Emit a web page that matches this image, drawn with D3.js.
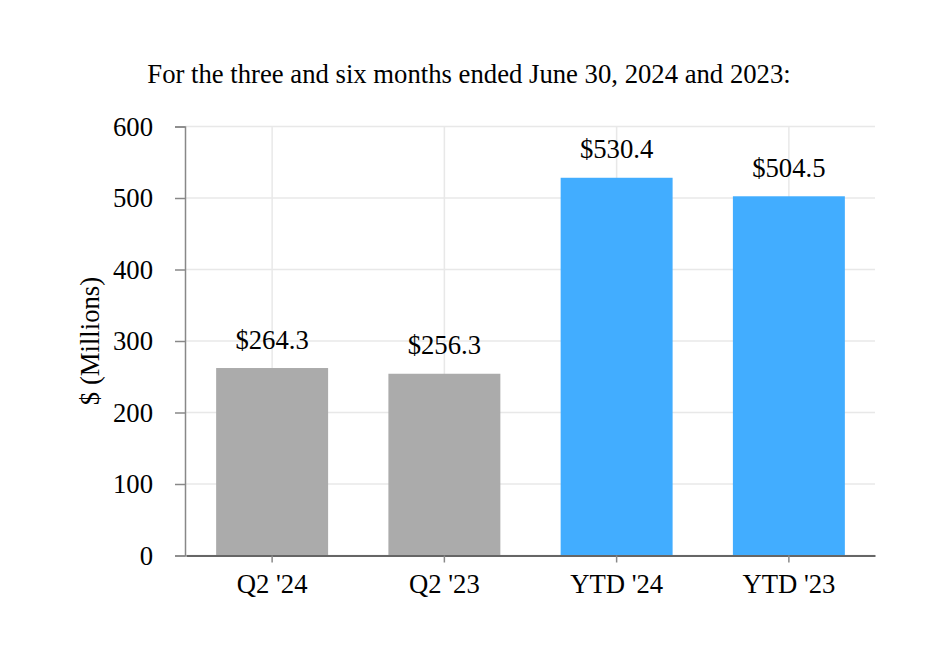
<!DOCTYPE html>
<html><head><meta charset="utf-8">
<script src="https://cdn.jsdelivr.net/npm/d3@7"></script>
<style>body{margin:0;background:#fff;} svg{display:block;}</style>
</head><body>
<svg id="chart" width="938" height="666"></svg>
<script>
const categories = ["Q2 '24", "Q2 '23", "YTD '24", "YTD '23"];
const values = [264.3, 256.3, 530.4, 504.5];
const labels = ["$264.3", "$256.3", "$530.4", "$504.5"];
const barColors = ["#ababab", "#ababab", "#42adff", "#42adff"];
const yTicks = [0, 100, 200, 300, 400, 500, 600];
const title = "For the three and six months ended June 30, 2024 and 2023:";
const yTitle = "$ (Millions)";

const svg = d3.select("#chart");
const font = "'Liberation Serif','Times New Roman',serif";
const fs = 26.7;
const m = {left: 185, right: 875, top: 126.5, bottom: 555.5};

const x = d3.scaleBand().domain(categories).range([m.left + 1, m.right]).paddingInner(0.35).paddingOuter(0.175);
const y = d3.scaleLinear().domain([0, 600]).range([m.bottom, m.top]);

// gridlines
svg.append("g").selectAll("line").data(yTicks).join("line")
  .attr("x1", m.left).attr("x2", m.right)
  .attr("y1", d => y(d)).attr("y2", d => y(d))
  .attr("stroke", "#e8e8e8").attr("stroke-width", 1.5);
svg.append("g").selectAll("line").data(categories).join("line")
  .attr("x1", d => x(d) + x.bandwidth()/2).attr("x2", d => x(d) + x.bandwidth()/2)
  .attr("y1", m.top).attr("y2", m.bottom)
  .attr("stroke", "#e8e8e8").attr("stroke-width", 1.5);

// bars
svg.append("g").selectAll("rect").data(values).join("rect")
  .attr("x", (d, i) => x(categories[i]))
  .attr("width", x.bandwidth())
  .attr("y", d => y(d) + 1.5)
  .attr("height", d => y(0) - y(d) - 1.5)
  .attr("fill", (d, i) => barColors[i]);

// value labels
svg.append("g").selectAll("text").data(values).join("text")
  .attr("x", (d, i) => x(categories[i]) + x.bandwidth()/2)
  .attr("y", d => y(d) - 18)
  .attr("text-anchor", "middle")
  .attr("font-family", font).attr("font-size", fs).attr("fill", "#000")
  .text((d, i) => labels[i]);

// y axis
const yAxis = svg.append("g").attr("transform", `translate(${m.left},0)`)
  .call(d3.axisLeft(y).tickValues(yTicks).tickSize(10).tickPadding(22));
yAxis.select(".domain").attr("stroke", "#888").attr("stroke-width", 1.5);
yAxis.selectAll(".tick line").attr("stroke", "#888").attr("stroke-width", 1.5);
yAxis.selectAll("text").attr("font-family", font).attr("font-size", fs).attr("fill", "#000");

// x axis
const xAxis = svg.append("g").attr("transform", `translate(0,${m.bottom})`)
  .call(d3.axisBottom(x).tickSize(7).tickPadding(12).tickSizeOuter(0));
xAxis.select(".domain").attr("stroke", "#666").attr("stroke-width", 2);
xAxis.selectAll(".tick line").attr("stroke", "#888").attr("stroke-width", 1.5);
xAxis.selectAll("text").attr("font-family", font).attr("font-size", fs).attr("fill", "#000");

// title
svg.append("text").attr("x", 469).attr("y", 83).attr("text-anchor", "middle")
  .attr("font-family", font).attr("font-size", fs).attr("fill", "#000").text(title);

// y title
svg.append("text").attr("transform", `translate(99,${(m.top+m.bottom)/2}) rotate(-90)`)
  .attr("text-anchor", "middle")
  .attr("font-family", font).attr("font-size", fs).attr("fill", "#000").text(yTitle);
</script>
</body></html>
